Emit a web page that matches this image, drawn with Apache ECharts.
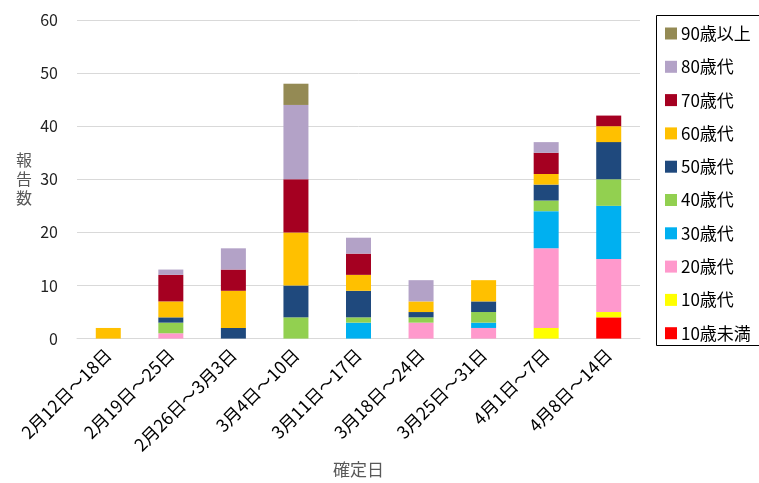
<!DOCTYPE html>
<html>
<head>
<meta charset="utf-8">
<script src="https://cdn.jsdelivr.net/npm/echarts@6/dist/echarts.min.js"></script>
<style>
html,body{margin:0;padding:0;background:#fff;overflow:hidden;}
#main{width:759px;height:483px;}
</style>
</head>
<body>
<div id="main"></div>
<script>
const categories = ['2月12日～18日','2月19日～25日','2月26日～3月3日','3月4日～10日','3月11日～17日','3月18日～24日','3月25日～31日','4月1日～7日','4月8日～14日'];
const ageUnder10 = [0,0,0,0,0,0,0,0,4];
const age10s = [0,0,0,0,0,0,0,2,1];
const age20s = [0,1,0,0,0,3,2,15,10];
const age30s = [0,0,0,0,3,0,1,7,10];
const age40s = [0,2,0,4,1,1,2,2,5];
const age50s = [0,1,2,6,5,1,2,3,7];
const age60s = [2,3,7,10,3,2,4,2,3];
const age70s = [0,5,4,10,4,0,0,4,2];
const age80s = [0,1,4,14,3,4,0,2,0];
const age90plus = [0,0,0,4,0,0,0,0,0];
const yTicks = [0,10,20,30,40,50,60];

const seriesDefs = [
  ['10歳未満', ageUnder10, '#FF0000'],
  ['10歳代', age10s, '#FFFF00'],
  ['20歳代', age20s, '#FF99CC'],
  ['30歳代', age30s, '#00B0F0'],
  ['40歳代', age40s, '#92D050'],
  ['50歳代', age50s, '#1F497D'],
  ['60歳代', age60s, '#FFC000'],
  ['70歳代', age70s, '#A50021'],
  ['80歳代', age80s, '#B3A2C7'],
  ['90歳以上', age90plus, '#948A54']
];

const font = "'Noto Sans CJK JP', 'Noto Sans', sans-serif";
const chart = echarts.init(document.getElementById('main'), null, {renderer:'canvas'});
chart.setOption({
  animation:false,
  textStyle:{fontFamily:font},
  grid:{left:77,right:119,top:20,bottom:141},
  graphic:[{
    type:'polyline', silent:true, z:10,
    shape:{points:[[759,15.5],[656.5,15.5],[656.5,345.5],[759,345.5]]},
    style:{fill:null,stroke:'#000',lineWidth:1}
  }],
  legend:{
    orient:'vertical',
    left:656, top:15,
    data: seriesDefs.map(s=>s[0]).reverse(),
    itemWidth:12, itemHeight:12, itemGap:16.3,
    icon:'rect',
    padding:[10,0,6,9],
    selectedMode:false,
    textStyle:{fontSize:17,color:'#000',fontFamily:font,lineHeight:17,padding:[0,0,0,-1]}
  },
  xAxis:{
    type:'category',
    data:categories,
    name:'確定日',
    nameLocation:'middle',
    nameGap:119,
    nameTextStyle:{fontSize:17,color:'#595959',fontFamily:font},
    axisLine:{lineStyle:{color:'#d9d9d9',width:1}},
    axisTick:{show:false},
    axisLabel:{rotate:45,fontSize:17.5,color:'#000',margin:13,fontFamily:font,interval:0}
  },
  yAxis:{
    type:'value',
    min:0,max:60,interval:10,
    name:'報\n告\n数',
    nameLocation:'middle',
    nameRotate:0,
    nameGap:45,
    nameTextStyle:{fontSize:16,color:'#595959',fontFamily:font,lineHeight:19},
    axisLine:{show:false},
    axisTick:{show:false},
    splitLine:{lineStyle:{color:'#d9d9d9',width:1}},
    axisLabel:{fontSize:16,color:'#222',margin:19,fontFamily:font,
      formatter:function(v){return yTicks.indexOf(v)>=0?String(v):'';}}
  },
  series: seriesDefs.map(s=>({
    name:s[0], type:'bar', stack:'total', data:s[1],
    barWidth:25,
    itemStyle:{color:s[2]}
  }))
});
</script>
</body>
</html>
